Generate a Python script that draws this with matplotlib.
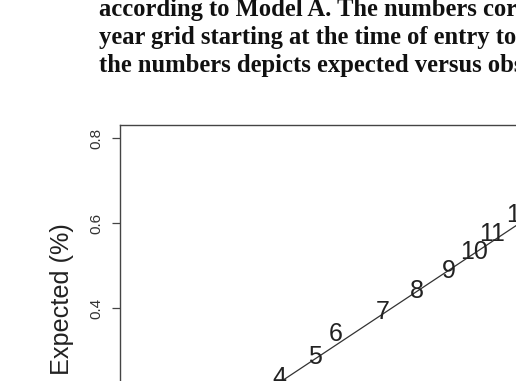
import matplotlib
matplotlib.use("Agg")
import matplotlib.pyplot as plt

# Data (observed on x, expected on y), labels are grid indices
point_labels = ["1", "2", "3", "4", "5", "6", "7", "8", "9", "10", "11", "12"]
observed = [0.06, 0.11, 0.17, 0.226, 0.281, 0.313, 0.387, 0.440, 0.489, 0.529, 0.557, 0.600]
expected = [0.07, 0.12, 0.18, 0.236, 0.286, 0.340, 0.392, 0.441, 0.488, 0.533, 0.576, 0.619]
ytick_vals = [0.2, 0.4, 0.6, 0.8]
ytick_labels = ["0.2", "0.4", "0.6", "0.8"]
caption_lines = [
    "according to Model A. The numbers correspond to the",
    "year grid starting at the time of entry to the study",
    "the numbers depicts expected versus observed risk",
]

W, H = 516, 381
fig = plt.figure(figsize=(W / 100, H / 100), dpi=100)

# Caption (bold serif), partly cut off by the crop
for i, line in enumerate(caption_lines):
    fig.text(99 / W, 1 - (16 + 28 * i) / H, line, family="Liberation Serif",
             weight="bold", fontsize=17.7, va="baseline", ha="left", color="#111111")

# Axes geometry in pixels
left_px, top_px = 120, 124.7
ytop, ybot = 0.832, 0.0
y_scale = 425.0
x_scale = 641.0
xleft = -15 / x_scale
right_px = 720
xright = xleft + (right_px - left_px) / x_scale
bottom_px = top_px + (ytop - ybot) * y_scale

ax = fig.add_axes([left_px / W, 1 - bottom_px / H, (right_px - left_px) / W,
                   (bottom_px - top_px) / H])
ax.set_xlim(xleft, xright)
ax.set_ylim(ybot, ytop)

ax.axline((0, 0), slope=1, color="#333333", lw=0.9)
for lab, xo, ye in zip(point_labels, observed, expected):
    ax.text(xo, ye, lab, ha="center", va="center", fontsize=18,
            family="Liberation Sans", color="#222222")

ax.set_yticks(ytick_vals)
ax.set_yticklabels(ytick_labels, rotation=90, va="center", family="Liberation Sans",
                   fontsize=11, color="#333333")
ax.tick_params(axis="y", length=6, width=0.9, color="#444444", pad=6)
ax.set_xticks([])
for s in ax.spines.values():
    s.set_color("#444444")
    s.set_linewidth(1.0)

fig.text(62 / W, 1 - 299 / H, "Expected (%)", rotation=90, ha="center", va="center",
         family="Liberation Sans", fontsize=18.2, color="#222222")

fig.savefig("out.png", dpi=100)
